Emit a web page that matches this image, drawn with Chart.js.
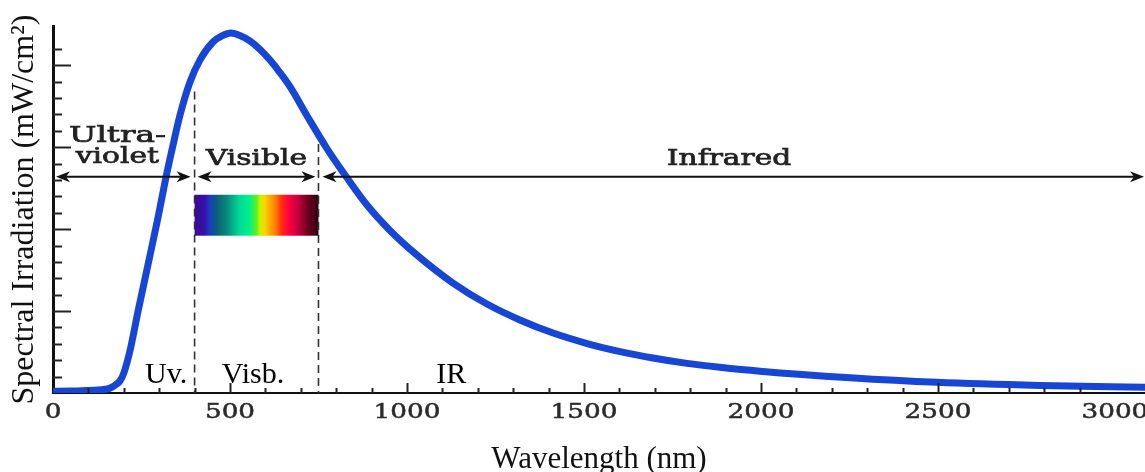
<!DOCTYPE html>
<html>
<head>
<meta charset="utf-8">
<script src="https://cdn.jsdelivr.net/npm/chart.js@4.4.1/dist/chart.umd.min.js"></script>
<style>
  html, body { margin: 0; padding: 0; background: #fff; overflow: hidden; }
  #wrap { width: 1145px; height: 472px; overflow: hidden; }
</style>
</head>
<body>
<div id="wrap"><canvas id="spectrum" width="1145" height="478"></canvas></div>
<script>
// Solar spectrum, values (arbitrary units, 1 per y tick)
const wavelengths = [0, 48, 153, 170, 178, 189, 201, 218, 241, 267, 297, 319, 336, 359, 387, 415, 452, 477, 503, 528, 557, 585, 613, 641, 670, 718, 774, 831, 887, 952, 1028, 1130, 1226, 1319, 1413, 1509, 1602, 1695, 1791, 1884, 1997, 2252, 2497, 2788, 3085];
const irradiance  = [0.10, 0.12, 0.24, 0.40, 0.52, 0.73, 1.28, 2.62, 5.07, 7.69, 10.74, 13.15, 14.83, 16.97, 18.98, 20.32, 21.42, 21.79, 21.97, 21.82, 21.48, 20.97, 20.32, 19.56, 18.68, 16.91, 14.92, 13.12, 11.47, 9.92, 8.42, 6.71, 5.43, 4.46, 3.66, 3.02, 2.53, 2.14, 1.81, 1.57, 1.33, 0.93, 0.65, 0.46, 0.35];

const xMajorTicks = [0, 500, 1000, 1500, 2000, 2500, 3000];
const regionBounds = [400, 750];     // nm, dashed separators
const boundaryTops = [18.4, 15.2];   // where the separators meet the curve
const regionNames = ['Ultra-', 'violet', 'Visible', 'Infrared'];
const regionShort = ['Uv.', 'Visb.', 'IR'];

// colours of the visible strip
const spectrumStops = [
  [0.00, '#3a0a98'], [0.08, '#3a10a8'], [0.12, '#1a3ac0'], [0.18, '#0a6078'],
  [0.26, '#0a8a7a'], [0.36, '#00d898'], [0.44, '#00f08c'], [0.50, '#60f020'],
  [0.53, '#d0f000'], [0.57, '#ffd000'], [0.65, '#ff8000'], [0.70, '#ff3010'],
  [0.76, '#ff0040'], [0.84, '#c0003a'], [0.91, '#700020'], [1.00, '#300010']
];

function stretchText(ctx, text, px, py, sx, align, bold) {
  ctx.save();
  ctx.translate(px, py);
  ctx.scale(sx, 1);
  ctx.textAlign = align;
  ctx.fillText(text, 0, 0);
  if (bold) {
    ctx.lineWidth = bold;
    ctx.strokeStyle = ctx.fillStyle;
    ctx.strokeText(text, 0, 0);
  }
  ctx.restore();
}

function arrowHead(ctx, tipX, tipY, dir) {
  ctx.beginPath();
  ctx.moveTo(tipX, tipY);
  ctx.lineTo(tipX - dir * 14, tipY - 5.5);
  ctx.lineTo(tipX - dir * 10, tipY);
  ctx.lineTo(tipX - dir * 14, tipY + 5.5);
  ctx.closePath();
  ctx.fill();
}

const annotations = {
  id: 'annotations',
  beforeDatasetsDraw(chart) {
    const {ctx, scales: {x, y}} = chart;
    const x0 = x.getPixelForValue(regionBounds[0]);
    const x1 = x.getPixelForValue(regionBounds[1]);

    // visible spectrum strip
    const yTop = y.getPixelForValue(12.1), yBot = y.getPixelForValue(9.6);
    const grad = ctx.createLinearGradient(x0, 0, x1, 0);
    spectrumStops.forEach(([p, c]) => grad.addColorStop(p, c));
    ctx.fillStyle = grad;
    ctx.fillRect(x0, yTop, x1 - x0, yBot - yTop);

    // dashed separators
    ctx.save();
    ctx.setLineDash([8, 5]);
    ctx.strokeStyle = '#333';
    ctx.lineWidth = 1.6;
    regionBounds.forEach((b, i) => {
      const px = x.getPixelForValue(b);
      ctx.beginPath();
      ctx.moveTo(px, y.getPixelForValue(boundaryTops[i]));
      ctx.lineTo(px, y.getPixelForValue(0));
      ctx.stroke();
    });
    ctx.restore();
  },
  afterDatasetsDraw(chart) {
    const {ctx, chartArea, scales: {x, y}} = chart;
    const b0 = x.getPixelForValue(regionBounds[0]);
    const b1 = x.getPixelForValue(regionBounds[1]);
    const ay = y.getPixelForValue(13.2);

    // double-headed arrows
    const segs = [[chartArea.left + 3, b0 - 4], [b0 + 3, b1 - 3], [b1 + 4, chartArea.right - 1]];
    ctx.save();
    ctx.strokeStyle = '#111';
    ctx.fillStyle = '#111';
    ctx.lineWidth = 2;
    segs.forEach(([a, b]) => {
      ctx.beginPath();
      ctx.moveTo(a + 6, ay);
      ctx.lineTo(b - 6, ay);
      ctx.stroke();
      arrowHead(ctx, a, ay, -1);
      arrowHead(ctx, b, ay, 1);
    });

    // region names above the arrows
    ctx.fillStyle = '#222';
    ctx.font = '22px "DejaVu Serif"';
    ctx.textBaseline = 'alphabetic';
    stretchText(ctx, regionNames[0], x.getPixelForValue(182), y.getPixelForValue(15.35), 1.48, 'center', 0.7);
    stretchText(ctx, regionNames[1], x.getPixelForValue(182), y.getPixelForValue(14.05), 1.35, 'center', 0.7);
    stretchText(ctx, regionNames[2], x.getPixelForValue(575), y.getPixelForValue(13.9), 1.35, 'center', 0.7);
    stretchText(ctx, regionNames[3], x.getPixelForValue(1910), y.getPixelForValue(13.9), 1.35, 'center', 0.7);

    // short names near the baseline
    ctx.fillStyle = '#000';
    ctx.font = '30px "Liberation Serif"';
    ctx.textAlign = 'left';
    const sy = y.getPixelForValue(0.6);
    ctx.fillText(regionShort[0], x.getPixelForValue(260), sy);
    ctx.fillText(regionShort[1], x.getPixelForValue(477), sy);
    ctx.fillText(regionShort[2], x.getPixelForValue(1083), sy);
    ctx.restore();
  },
  afterDraw(chart) {
    const {ctx, chartArea, scales: {x, y}} = chart;
    ctx.save();
    ctx.strokeStyle = '#222';
    ctx.lineWidth = 2;
    // inward y ticks
    y.ticks.forEach(t => {
      const v = t.value;
      if (Math.abs(v - Math.round(v)) > 1e-6 || v === 0) return;
      const py = Math.round(y.getPixelForValue(v)) + 0.5;
      const len = Math.round(v) % 5 === 0 ? 18 : 9;
      ctx.beginPath();
      ctx.moveTo(chartArea.left, py);
      ctx.lineTo(chartArea.left + len, py);
      ctx.stroke();
    });
    // upward x ticks
    x.ticks.forEach(t => {
      const v = Math.round(t.value);
      if (v % 100 !== 0 || v === 0) return;
      const px = Math.round(x.getPixelForValue(v)) + 0.5;
      const len = v % 500 === 0 ? 10 : 5;
      ctx.beginPath();
      ctx.moveTo(px, chartArea.bottom);
      ctx.lineTo(px, chartArea.bottom - len);
      ctx.stroke();
    });
    // x tick labels
    ctx.fillStyle = '#2a2a2a';
    ctx.font = '21px "DejaVu Serif"';
    ctx.textBaseline = 'alphabetic';
    xMajorTicks.forEach(v => {
      stretchText(ctx, String(v), x.getPixelForValue(v), chartArea.bottom + 25, 1.25, 'center', 0.5);
    });
    ctx.restore();
  }
};

new Chart(document.getElementById('spectrum'), {
  type: 'line',
  data: {
    datasets: [{
      data: wavelengths.map((w, i) => ({x: w, y: irradiance[i]})),
      borderColor: '#1846d4',
      borderWidth: 7,
      pointRadius: 0,
      cubicInterpolationMode: 'monotone',
      borderCapStyle: 'round',
      borderJoinStyle: 'round',
      fill: false
    }]
  },
  options: {
    responsive: false,
    animation: false,
    layout: { padding: { top: 26, right: 0, bottom: 0, left: 0 } },
    plugins: { legend: { display: false }, tooltip: { enabled: false } },
    scales: {
      x: {
        type: 'linear',
        min: 0,
        max: 3085,
        ticks: { display: false, stepSize: 100 },
        grid: { drawOnChartArea: false, drawTicks: false },
        border: { display: true, color: '#111', width: 2 },
        title: {
          display: true,
          text: 'Wavelength (nm)',
          color: '#111',
          font: { family: 'Liberation Serif', size: 31 },
          padding: { top: 0, bottom: 0 }
        },
        afterFit: s => { s.height = 85; }
      },
      y: {
        min: 0,
        max: 22.4,
        ticks: { display: false, stepSize: 1 },
        grid: { drawOnChartArea: false, drawTicks: false },
        border: { display: true, color: '#111', width: 3 },
        title: {
          display: true,
          text: 'Spectral Irradiation (mW/cm²)',
          color: '#111',
          font: { family: 'Liberation Serif', size: 32 },
          padding: { top: 5, bottom: 0 }
        },
        afterFit: s => { s.width = 53; }
      }
    }
  },
  plugins: [annotations]
});
</script>
</body>
</html>
